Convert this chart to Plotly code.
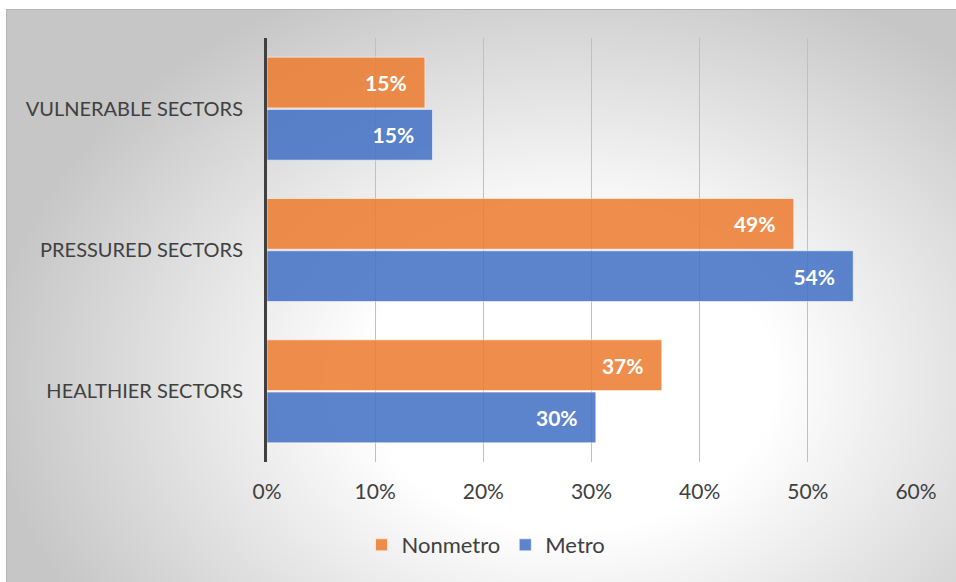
import base64
import plotly.graph_objects as go

# Shares of employment by sector health, split by county type
categories = ["HEALTHIER SECTORS", "PRESSURED SECTORS", "VULNERABLE SECTORS"]
metro = [0.304, 0.542, 0.153]
nonmetro = [0.365, 0.487, 0.146]
x_ticks = [0, 0.1, 0.2, 0.3, 0.4, 0.5, 0.6]

W, H = 956, 582
FONT = "Lato"
TEXT_GRAY = "#404040"

# Soft radial grey backdrop with a thin frame, drawn as an SVG layout image
svg = f"""<svg xmlns="http://www.w3.org/2000/svg" width="{W}" height="{H}" viewBox="0 0 {W} {H}" preserveAspectRatio="none">
<defs><radialGradient id="g" gradientUnits="userSpaceOnUse" cx="0" cy="0" r="1"
 gradientTransform="translate(570 380) scale(580 430)">
<stop offset="0" stop-color="#ffffff"/><stop offset="0.35" stop-color="#ffffff"/>
<stop offset="1" stop-color="#c6c6c6"/></radialGradient></defs>
<rect x="6.5" y="9.5" width="980" height="620" fill="url(#g)" stroke="#b4b4b4" stroke-width="1"/>
</svg>"""
bg_src = "data:image/svg+xml;base64," + base64.b64encode(svg.encode()).decode()

pad = "\u00a0\u00a0\u00a0"
label_font = dict(family=FONT, size=21, color="white", weight="bold")

fig = go.Figure()
fig.add_trace(go.Bar(
    name="Metro", y=categories, x=metro, orientation="h",
    marker=dict(color="rgba(68,114,196,0.87)", line=dict(color="rgba(255,255,255,0.55)", width=1)),
    texttemplate="%{x:.0%}" + pad, textposition="inside", insidetextanchor="end",
    textfont=label_font, hoverinfo="skip",
))
fig.add_trace(go.Bar(
    name="Nonmetro", y=categories, x=nonmetro, orientation="h",
    marker=dict(color="rgba(237,125,49,0.87)", line=dict(color="rgba(255,255,255,0.55)", width=1)),
    texttemplate="%{x:.0%}" + pad, textposition="inside", insidetextanchor="end",
    textfont=label_font, hoverinfo="skip",
))

fig.update_layout(
    width=W, height=H,
    margin=dict(l=0, r=0, t=0, b=0),
    paper_bgcolor="white",
    plot_bgcolor="rgba(0,0,0,0)",
    barmode="group", bargap=0.26, bargroupgap=0.03,
    font=dict(family=FONT, color=TEXT_GRAY),
    images=[dict(source=bg_src, xref="paper", yref="paper", x=0, y=1,
                 sizex=1, sizey=1, xanchor="left", yanchor="top",
                 sizing="stretch", layer="below")],
    xaxis=dict(
        domain=[267 / W, 916 / W], range=[0, 0.6], tickvals=x_ticks,
        tickformat=".0%", showgrid=True, gridcolor="#c0c0c0", gridwidth=1,
        zeroline=False, showline=False, ticks="", automargin=False,
        tickfont=dict(family=FONT, size=21, color=TEXT_GRAY),
        ticklabelstandoff=15,
    ),
    yaxis=dict(
        domain=[(H - 462) / H, (H - 38) / H], categoryorder="array",
        categoryarray=categories, showgrid=False, zeroline=False,
        showline=True, linecolor="#404040", linewidth=3, ticks="",
        automargin=False, tickfont=dict(family=FONT, size=20, color=TEXT_GRAY),
        ticklabelstandoff=17,
    ),
    legend=dict(orientation="h", x=486 / W, xanchor="center",
                y=(H - 545) / H, yanchor="middle", traceorder="reversed",
                font=dict(family=FONT, size=22, color=TEXT_GRAY),
                bgcolor="rgba(0,0,0,0)", itemwidth=30),
    showlegend=True,
)

fig.write_html("out.html")
